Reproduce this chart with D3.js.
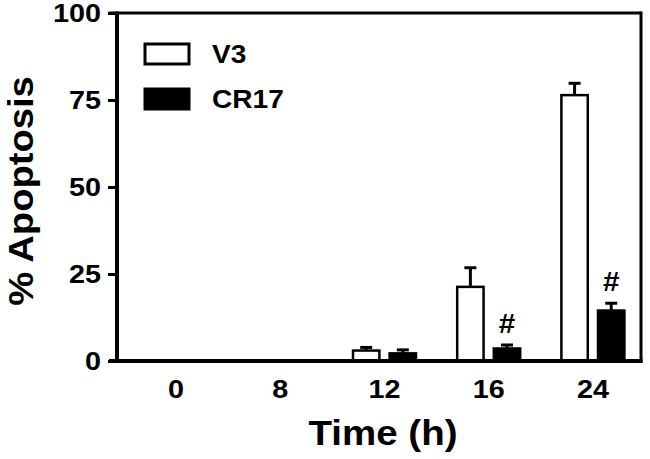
<!DOCTYPE html>
<html>
<head>
<meta charset="utf-8">
<script src="https://cdn.jsdelivr.net/npm/d3@7"></script>
<style>
  body { margin: 0; background: #fff; }
  svg { font-family: "Liberation Sans", Arial, sans-serif; font-weight: bold; }
</style>
</head>
<body>
<div id="chart"></div>
<script>
// data
const times = ["0", "8", "12", "16", "24"];
const seriesNames = ["V3", "CR17"];
const v3Values = [0, 0, 3.0, 21.3, 76.4];
const v3Errors = [0, 0, 0.9, 5.5, 3.4];
const cr17Values = [0, 0, 2.2, 3.6, 14.5];
const cr17Errors = [0, 0, 1.0, 1.0, 2.1];
const significant = [false, false, false, true, true]; // "#" over CR17
const yTicks = [0, 25, 50, 75, 100];

const W = 650, H = 459;
const margin = { top: 13, right: 9, bottom: 98, left: 117 };
const width = W - margin.left - margin.right;
const height = H - margin.top - margin.bottom;

// the original lettering is a bit wider than Liberation Sans
function stretch(sel, k) {
    sel.each(function () {
        const len = this.getComputedTextLength();
        d3.select(this)
            .attr("textLength", len * k)
            .attr("lengthAdjust", "spacingAndGlyphs");
    });
}

const svg = d3.select("#chart").append("svg")
    .attr("width", W)
    .attr("height", H);

const g = svg.append("g")
    .attr("transform", `translate(${margin.left},${margin.top})`);

const x0 = d3.scaleBand()
    .domain(times)
    .range([7, width + 4]);

const x1 = d3.scaleBand()
    .domain(seriesNames)
    .range([x0.bandwidth() / 2 - 31.5, x0.bandwidth() / 2 + 31.5])
    .paddingInner(0.28);

const y = d3.scaleLinear()
    .domain([0, 100])
    .range([height, 0]);

// rows for the bars
const rows = [];
times.forEach((t, i) => {
    rows.push({ t, s: "V3", v: v3Values[i], e: v3Errors[i] });
    rows.push({ t, s: "CR17", v: cr17Values[i], e: cr17Errors[i] });
});
const drawn = rows.filter(d => d.v > 0);

// bars
g.selectAll("rect.bar")
    .data(drawn)
    .enter().append("rect")
    .attr("class", "bar")
    .attr("x", d => x0(d.t) + x1(d.s))
    .attr("y", d => y(d.v))
    .attr("width", x1.bandwidth())
    .attr("height", d => y(0) - y(d.v))
    .attr("fill", d => d.s === "V3" ? "#fff" : "#000")
    .attr("stroke", "#000")
    .attr("stroke-width", 2.5);

// error bars (upper only)
const err = g.selectAll("g.err")
    .data(drawn)
    .enter().append("g")
    .attr("class", "err")
    .attr("transform", d => `translate(${x0(d.t) + x1(d.s) + x1.bandwidth() / 2},0)`);

err.append("line")
    .attr("y1", d => y(d.v))
    .attr("y2", d => y(d.v + d.e))
    .attr("stroke", "#000")
    .attr("stroke-width", 3);

err.append("line")
    .attr("x1", -6).attr("x2", 6)
    .attr("y1", d => y(d.v + d.e))
    .attr("y2", d => y(d.v + d.e))
    .attr("stroke", "#000")
    .attr("stroke-width", 3);

// significance marks
g.selectAll("text.sig")
    .data(times.filter((t, i) => significant[i]))
    .enter().append("text")
    .attr("class", "sig")
    .attr("x", t => x0(t) + x1("CR17") + x1.bandwidth() / 2)
    .attr("y", t => { const i = times.indexOf(t); return y(cr17Values[i] + cr17Errors[i]) - 12; })
    .attr("text-anchor", "middle")
    .attr("font-size", 27)
    .text("#")
    .call(stretch, 1.1);

// y axis
const yAxis = g.append("g")
    .call(d3.axisLeft(y).tickValues(yTicks).tickSize(9).tickPadding(7));
yAxis.select(".domain").remove();
yAxis.selectAll(".tick line").attr("stroke", "#000").attr("stroke-width", 3);
yAxis.selectAll(".tick text")
    .attr("font-size", 25)
    .attr("font-family", "'Liberation Sans', Arial, sans-serif")
    .attr("font-weight", "bold")
    .attr("fill", "#000")
    .call(stretch, 1.15);

// x axis
const xAxis = g.append("g")
    .attr("transform", `translate(0,${height})`)
    .call(d3.axisBottom(x0).tickSize(0).tickPadding(19));
xAxis.select(".domain").remove();
xAxis.selectAll(".tick text")
    .attr("font-size", 25)
    .attr("font-family", "'Liberation Sans', Arial, sans-serif")
    .attr("font-weight", "bold")
    .attr("fill", "#000")
    .call(stretch, 1.15);

// frame
g.append("line").attr("x1", 0).attr("x2", 0).attr("y1", -1.5).attr("y2", height)
    .attr("stroke", "#000").attr("stroke-width", 4);
g.append("line").attr("x1", -8).attr("x2", width).attr("y1", 0).attr("y2", 0)
    .attr("stroke", "#000").attr("stroke-width", 3);
g.append("line").attr("x1", width).attr("x2", width).attr("y1", -1.5).attr("y2", height + 2)
    .attr("stroke", "#000").attr("stroke-width", 3);
g.append("line").attr("x1", -8).attr("x2", width + 1.5).attr("y1", height).attr("y2", height)
    .attr("stroke", "#000").attr("stroke-width", 4);

// legend
const legend = svg.append("g")
    .selectAll("g")
    .data(seriesNames)
    .enter().append("g")
    .attr("transform", (d, i) => `translate(145,${44 + i * 45})`);

legend.append("rect")
    .attr("width", 44)
    .attr("height", 20)
    .attr("fill", d => d === "V3" ? "#fff" : "#000")
    .attr("stroke", "#000")
    .attr("stroke-width", 3);

legend.append("text")
    .attr("x", 67)
    .attr("y", 19)
    .attr("font-size", 26)
    .text(d => d)
    .call(stretch, 1.08);

// axis titles
svg.append("text")
    .attr("transform", "translate(33,191) rotate(-90)")
    .attr("text-anchor", "middle")
    .attr("font-size", 35)
    .text("% Apoptosis")
    .call(stretch, 1.09);

svg.append("text")
    .attr("x", 383)
    .attr("y", 445)
    .attr("text-anchor", "middle")
    .attr("font-size", 35)
    .text("Time (h)")
    .call(stretch, 1.1);
</script>
</body>
</html>
